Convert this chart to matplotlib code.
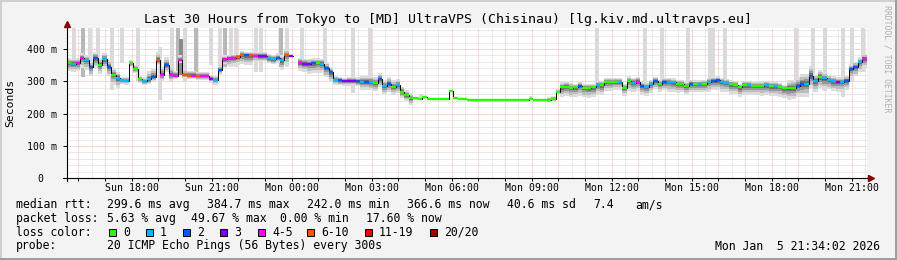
import datetime as dt
import numpy as np
import matplotlib
matplotlib.use('Agg')
import matplotlib.pyplot as plt
from matplotlib.collections import LineCollection
from matplotlib.patches import Rectangle
from matplotlib.lines import Line2D
from matplotlib.ticker import FixedLocator

plt.rcParams['font.family'] = ['DejaVu Sans Mono']

W, H = 897, 260
start = dt.datetime(2026, 1, 4, 15, 34, 2)
step_h = 1 / 6  # 10 minute samples

# median rtt in ms, one value every 10 minutes
median = [356, 355, 357, 372, 366, 345, 371, 352, 368, 345,
          320, 310, 303, 302, 356, 338, 306, 300, 306, 314,
          365, 320, 349, 320, 318, 366, 320, 318, 318, 315,
          317, 316, 308, 305, 335, 368, 372, 373, 376, 383,
          381, 381, 378, 377, 377, 371, 368, 372, 365, 382,
          378, np.nan, 358, 355, 354, 356, 357, 355, 342, 328,
          305, 303, 301, 301, 301, 300, 299, 299, 298, 294,
          306, 285, 292, 283, 288, 268, 258, 248, 247, 246,
          250, 244, 244, 244, 244, 244, 270, 248, 244, 244,
          243, 243, 243, 243, 243, 243, 243, 242, 243, 243,
          243, 243, 243, 243, 244, 243, 243, 243, 243, 246,
          268, 282, 284, 280, 281, 286, 280, 279, 281, 290,
          288, 299, 299, 299, 299, 280, 301, 296, 299, 287,
          284, 293, 301, 293, 298, 298, 297, 293, 292, 285,
          292, 291, 291, 292, 298, 302, 303, 298, 296, 291,
          290, 281, 288, 288, 287, 287, 286, 288, 285, 285,
          283, 278, 278, 280, 287, 292, 293, 318, 301, 314,
          309, 305, 300, 298, 298, 302, 338, 345, 360, 370]

# loss class index per sample (0 .. 7 -> loss_labels)
loss = [0, 1, 4, 4, 1, 2, 2, 0, 1, 2,
        0, 1, 1, 1, 0, 0, 0, 1, 1, 2,
        5, 4, 2, 4, 4, 4, 5, 5, 4, 5,
        4, 4, 3, 1, 2, 4, 4, 4, 5, 5,
        2, 5, 4, 3, 3, 1, 1, 2, 1, 5,
        3, 0, 4, 3, 3, 2, 0, 1, 2, 2,
        1, 2, 3, 3, 3, 2, 1, 2, 1, 0,
        2, 1, 2, 0, 1, 0, 0, 0, 0, 0,
        0, 0, 0, 0, 0, 0, 0, 0, 0, 0,
        0, 0, 0, 0, 0, 0, 0, 0, 0, 0,
        0, 0, 0, 0, 0, 0, 0, 0, 0, 0,
        0, 0, 0, 0, 0, 2, 0, 0, 0, 1,
        0, 0, 0, 0, 1, 0, 0, 1, 4, 2,
        1, 1, 2, 0, 2, 1, 1, 0, 0, 0,
        2, 0, 1, 0, 1, 2, 2, 1, 1, 0,
        0, 0, 0, 1, 0, 0, 0, 1, 0, 1,
        0, 0, 0, 0, 2, 2, 1, 2, 1, 0,
        1, 1, 1, 3, 1, 2, 2, 2, 1, 4]

# smoke spread below / above the median, one value per 30 minutes
smoke_lo = [25, 30, 30, 30, 12, 12, 15, 20, 10, 12,
            12, 15, 25, 30, 15, 15, 30, 25, 30, 30,
            15, 15, 25, 25, 25, 20, 4, 3, 2, 2,
            2, 2, 2, 2, 3, 2, 8, 30, 30, 30,
            30, 25, 30, 30, 25, 30, 25, 25, 30, 30,
            30, 30, 30, 30, 35, 40, 35, 30, 30, 30]
smoke_hi = [15, 15, 20, 20, 10, 12, 25, 25, 15, 15,
            12, 12, 10, 10, 15, 15, 15, 15, 15, 15,
            10, 12, 18, 20, 20, 15, 4, 3, 2, 2,
            2, 2, 2, 2, 3, 2, 8, 15, 12, 12,
            12, 12, 15, 12, 12, 12, 12, 12, 12, 12,
            12, 12, 12, 12, 25, 30, 20, 15, 15, 15]

# single slow pings (hours since start, top ms, bottom ms, shade)
spike_t = [0.27, 0.61, 0.87, 1.17, 1.70, 2.07, 2.67, 3.50, 3.95, 4.18,
           4.30, 4.45, 4.85, 5.41, 5.75, 5.95, 6.15, 6.35, 7.10, 7.29,
           8.05, 8.25, 8.82, 9.69, 10.74, 11.37, 13.30, 17.40, 19.90, 21.68,
           22.32, 23.30, 24.12, 24.25, 24.70, 27.35, 27.98, 28.43, 29.10, 29.44,
           29.86]
spike_top = [470, 470, 470, 470, 470, 470, 470, 406, 470, 470,
             430, 470, 470, 470, 470, 470, 470, 470, 470, 470,
             470, 470, 470, 470, 470, 470, 262, 256, 470, 470,
             470, 470, 470, 470, 470, 470, 470, 470, 470, 470,
             470]
spike_bot = [350, 313, 340, 350, 273, 356, 300, 242, 305, 330,
             320, 298, 330, 350, 345, 345, 345, 345, 330, 330,
             345, 345, 340, 320, 265, 300, 243, 243, 290, 273,
             300, 280, 290, 290, 270, 263, 300, 270, 251, 300,
             330]
spike_shade = [0, 1, 0, 0, 0, 0, 0, 0, 0, 1,
               2, 0, 1, 0, 0, 1, 0, 0, 0, 0,
               1, 0, 0, 0, 0, 0, 0, 0, 0, 0,
               0, 0, 0, 0, 0, 0, 0, 0, 0, 0,
               0]

loss_labels = ['0', '1', '2', '3', '4-5', '6-10', '11-19', '20/20']
loss_colors = ['#26ff00', '#00b8ff', '#0059ff', '#7e00ff',
               '#ff00ff', '#ff5500', '#ff0000', '#a10000']

y_ticks = [0, 100, 200, 300, 400]
y_labels = ['0', '100 m', '200 m', '300 m', '400 m']


def fx(x):
    return x / W


def fy(y):
    return 1 - y / H


fig = plt.figure(figsize=(W / 100, H / 100), dpi=100, facecolor='#f3f3f3')
ax = fig.add_axes([fx(66.7), fy(178.3), 800 / W, 150.3 / H])
ax.set_facecolor('white')
ax.set_xlim(0, 30)
ax.set_ylim(0, 465)

t = np.arange(len(median)) * step_h
med = np.array(median, dtype=float)
lo = np.repeat(smoke_lo, 3).astype(float)
hi = np.repeat(smoke_hi, 3).astype(float)

shade_cols = ['#dadada', '#b8b8b8', '#8a8a8a']
for ts, top, bot, sh in zip(spike_t, spike_top, spike_bot, spike_shade):
    ax.bar(ts, top - bot, bottom=bot, width=0.15, color=shade_cols[sh],
           lw=0, zorder=2)

te = np.append(t, t[-1] + step_h)


def ext(a):
    return np.append(a, a[-1])


layers = [(1.0, '#dcdcdc'), (0.7, '#bdbdbd'), (0.45, '#979797'),
          (0.25, '#6f6f6f'), (0.1, '#474747')]
for frac, col in layers:
    ax.fill_between(te, ext(med - frac * lo), ext(med + frac * hi),
                    step='post', color=col, lw=0, zorder=3)

ax.step(te, ext(med), where='post', color='black', lw=0.7, zorder=4)
segs, cols = [], []
for i in range(len(med)):
    if np.isnan(med[i]):
        continue
    segs.append([(t[i], med[i]), (t[i] + step_h, med[i])])
    cols.append(loss_colors[loss[i]])
ax.add_collection(LineCollection(segs, colors=cols, linewidths=1.7,
                                 capstyle='butt', zorder=5))

# time axis
first_hour = dt.datetime(2026, 1, 4, 16, 0)
hours = [first_hour + dt.timedelta(hours=n) for n in range(30)]
hour_pos = [(h - start).total_seconds() / 3600 for h in hours]
hour_lab = [h.strftime('%a %H:%M') if h.hour % 3 == 0 else '' for h in hours]
half_pos = [p + 0.5 for p in hour_pos if p + 0.5 < 30] + [hour_pos[0] - 0.5]
ax.set_xticks(hour_pos)
ax.set_xticklabels(hour_lab)
ax.xaxis.set_minor_locator(FixedLocator(half_pos))

ax.set_yticks(y_ticks)
ax.set_yticklabels(y_labels)
ax.yaxis.set_minor_locator(FixedLocator([v for v in range(20, 465, 20) if v % 100]))

ax.tick_params(which='major', axis='x', length=2, width=0.7, pad=1.6,
               labelsize=7.1, direction='out')
ax.tick_params(which='major', axis='y', length=3, width=0.7, pad=3.9,
               labelsize=7.1, direction='out')
ax.tick_params(which='minor', length=0)
ax.yaxis.get_major_ticks()[0].set_pad(3.9 + 13.6 * 0.72)

ax.grid(which='minor', color='#d4d4d4', ls=(0, (1, 1)), lw=0.72, zorder=1)
ax.grid(which='major', color='#f5b0b0', ls=(0, (1, 1)), lw=0.72, zorder=1)
ax.set_axisbelow(True)

for s in ax.spines.values():
    s.set_visible(False)
ytop = (178.3 - 24) / 150.3
ax.plot([0, 0], [-0.02, ytop], transform=ax.transAxes, color='black',
        lw=0.8, clip_on=False, zorder=6)
ax.plot([0], [ytop], marker='^', ms=4.5, color='#8b0000', mec='#8b0000',
        transform=ax.transAxes, clip_on=False, zorder=7)
xend = (871 - 66.7) / 800
ax.plot([-0.005, xend], [0, 0], transform=ax.transAxes, color='black',
        lw=0.8, clip_on=False, zorder=6)
ax.plot([xend], [0], marker='>', ms=4.5, color='#8b0000', mec='#8b0000',
        transform=ax.transAxes, clip_on=False, zorder=7)

# texts
fig.text(fx(448), fy(19),
         'Last 30 Hours from Tokyo to [MD] UltraVPS (Chisinau) [lg.kiv.md.ultravps.eu]',
         ha='center', va='center', fontsize=9.5)
fig.text(fx(10), fy(103), 'Seconds', rotation=90, ha='center', va='center',
         fontsize=8.2)
fig.text(fx(887), fy(59), 'RRDTOOL / TOBI OETIKER', rotation=270,
         ha='center', va='center', fontsize=5.9, color='#b0b0b0')

fs = 8.3
row1 = [(16, 'median rtt:'), (107, '299.6 ms avg'), (207, '384.7 ms max'),
        (307, '242.0 ms min'), (407, '366.6 ms now'), (507, '40.6 ms sd'),
        (593, '7.4'), (635, 'am/s')]
row2 = [(16, 'packet loss:'), (107, '5.63 % avg'), (191, '49.67 % max'),
        (280, '0.00 % min'), (366, '17.60 % now')]
for x, s in row1:
    fig.text(fx(x), fy(204.5), s, ha='left', va='center', fontsize=fs)
for x, s in row2:
    fig.text(fx(x), fy(218.5), s, ha='left', va='center', fontsize=fs)

fig.text(fx(16), fy(232), 'loss color:', ha='left', va='center', fontsize=fs)
sq_x = [109, 146, 183, 220, 258, 307, 365, 430]
for x, lab, col in zip(sq_x, loss_labels, loss_colors):
    fig.patches.append(Rectangle((fx(x), fy(235.5)), 7 / W, 7 / H,
                                 transform=fig.transFigure, facecolor=col,
                                 edgecolor='black', lw=0.7))
    fig.text(fx(x + 14), fy(232), lab, ha='left', va='center', fontsize=fs)

fig.text(fx(16), fy(246), 'probe:', ha='left', va='center', fontsize=fs)
fig.text(fx(107), fy(246), '20 ICMP Echo Pings (56 Bytes) every 300s',
         ha='left', va='center', fontsize=fs)
fig.text(fx(880), fy(246), 'Mon Jan  5 21:34:02 2026', ha='right',
         va='center', fontsize=fs)

# 3d frame
fig.add_artist(Line2D([0, 1], [fy(1), fy(1)], color='#cfcfcf', lw=1.44))
fig.add_artist(Line2D([fx(1), fx(1)], [0, 1], color='#cfcfcf', lw=1.44))
fig.add_artist(Line2D([0, 1], [fy(259), fy(259)], color='#9e9e9e', lw=1.44))
fig.add_artist(Line2D([fx(896), fx(896)], [0, 1], color='#9e9e9e', lw=1.44))

fig.savefig('out.png', dpi=100, facecolor=fig.get_facecolor())
